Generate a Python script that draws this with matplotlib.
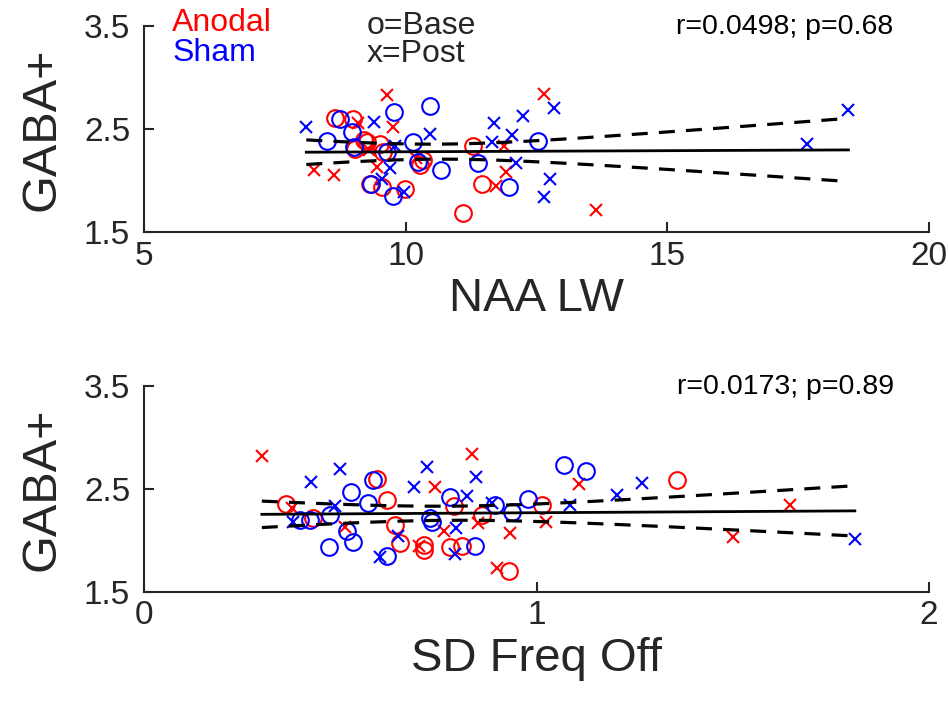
import numpy as np
import matplotlib
matplotlib.use("Agg")
import matplotlib.pyplot as plt

plt.rcParams['font.family'] = ['Liberation Sans', 'DejaVu Sans']

# ---- top panel: NAA linewidth vs GABA+ ----
naa_anodal_base = [8.64, 9.00, 9.03, 9.26, 9.51, 9.57, 9.32, 9.54, 9.99, 10.27, 10.33, 11.29, 11.45, 11.09, 9.20]
gaba_anodal_base = [2.61, 2.60, 2.31, 2.38, 2.36, 2.28, 1.97, 1.94, 1.92, 2.15, 2.20, 2.34, 1.97, 1.69, 2.40]
naa_anodal_post = [9.65, 9.76, 8.24, 8.63, 9.45, 11.73, 9.08, 12.64, 11.87, 11.92, 13.64, 9.30, 10.20]
gaba_anodal_post = [2.83, 2.52, 2.10, 2.06, 2.13, 1.95, 2.56, 2.84, 2.34, 2.08, 1.72, 2.30, 2.22]
naa_sham_base = [8.75, 8.49, 8.97, 9.01, 9.78, 10.47, 10.13, 10.24, 10.67, 9.65, 9.33, 9.76, 11.38, 12.52, 11.98]
gaba_sham_base = [2.60, 2.39, 2.47, 2.33, 2.67, 2.73, 2.38, 2.18, 2.10, 2.28, 1.97, 1.85, 2.17, 2.39, 1.94]
naa_sham_post = [8.10, 9.40, 10.47, 9.80, 9.54, 9.70, 9.96, 11.68, 11.65, 12.83, 12.25, 12.04, 12.11, 12.76, 12.64, 18.46, 17.66]
gaba_sham_post = [2.52, 2.57, 2.45, 2.34, 2.02, 2.12, 1.89, 2.56, 2.38, 2.71, 2.63, 2.44, 2.17, 2.02, 1.84, 2.69, 2.36]

# ---- bottom panel: SD of frequency offset vs GABA+ ----
sd_anodal_base = [0.362, 0.431, 0.593, 0.618, 0.640, 0.652, 0.712, 0.714, 0.790, 0.780, 0.810, 0.860, 0.930, 1.013, 1.359]
gb_anodal_base = [2.35, 2.22, 2.60, 2.39, 2.15, 1.97, 1.96, 1.91, 2.33, 1.94, 1.95, 2.25, 1.70, 2.34, 2.59]
sd_anodal_post = [0.300, 0.376, 0.512, 0.741, 0.700, 0.763, 0.835, 0.932, 1.024, 1.109, 1.500, 0.900, 1.646, 0.852]
gb_anodal_post = [2.82, 2.31, 2.13, 2.52, 1.95, 2.09, 2.84, 2.07, 2.18, 2.55, 2.03, 1.73, 2.34, 2.17]
sd_sham_base = [0.397, 0.423, 0.470, 0.474, 0.518, 0.532, 0.527, 0.584, 0.571, 0.618, 0.729, 0.733, 0.780, 0.844, 0.894, 0.937, 0.979, 1.070, 1.126]
gb_sham_base = [2.20, 2.20, 1.94, 2.25, 2.09, 1.98, 2.47, 2.59, 2.36, 1.85, 2.22, 2.18, 2.42, 1.95, 2.34, 2.28, 2.40, 2.73, 2.67]
sd_sham_post = [0.380, 0.425, 0.500, 0.487, 0.600, 0.648, 0.720, 0.688, 0.795, 0.824, 0.792, 0.846, 0.886, 1.084, 1.204, 1.268, 1.811]
gb_sham_post = [2.18, 2.57, 2.69, 2.33, 1.84, 2.04, 2.71, 2.52, 2.12, 2.43, 1.87, 2.62, 2.36, 2.34, 2.44, 2.56, 2.01]

stats_top = "r=0.0498; p=0.68"
stats_bottom = "r=0.0173; p=0.89"


def fit_band(x, y):
    # least squares line + 95% confidence band of the mean
    x = np.asarray(x); y = np.asarray(y)
    n = len(x)
    b, a = np.polyfit(x, y, 1)
    res = y - (a + b * x)
    s = np.sqrt(np.sum(res ** 2) / (n - 2))
    sxx = np.sum((x - x.mean()) ** 2)
    xx = np.linspace(x.min(), x.max(), 100)
    yy = a + b * xx
    half = 1.998 * s * np.sqrt(1.0 / n + (xx - x.mean()) ** 2 / sxx)
    return xx, yy, yy - half, yy + half


def panel(ax, groups, xlim, xticks, xlabel, stats):
    for x, y, col, mk in groups:
        if mk == 'o':
            ax.plot(x, y, 'o', mfc='none', mec=col, ms=12, mew=1.5, clip_on=False)
        else:
            ax.plot(x, y, 'x', color=col, ms=8, mew=1.5, clip_on=False)
    allx = np.concatenate([g[0] for g in groups])
    ally = np.concatenate([g[1] for g in groups])
    xx, yy, lo, hi = fit_band(allx, ally)
    ax.plot(xx, yy, 'k-', lw=2)
    ax.plot(xx, lo, 'k--', lw=2.3, dashes=(5, 3.5))
    ax.plot(xx, hi, 'k--', lw=2.3, dashes=(5, 3.5))
    ax.set_xlim(xlim)
    ax.set_ylim(1.5, 3.5)
    ax.set_xticks(xticks)
    ax.set_yticks([1.5, 2.5, 3.5])
    ax.set_yticklabels(['1.5', '2.5', '3.5'])
    ax.spines['top'].set_visible(False)
    ax.spines['right'].set_visible(False)
    for s in ['left', 'bottom']:
        ax.spines[s].set_linewidth(1.5)
        ax.spines[s].set_color('#262626')
    ax.tick_params(direction='in', length=7, width=1.5, labelsize=24, colors='#262626')
    ax.tick_params(axis='x', pad=6)
    ax.tick_params(axis='y', pad=10)
    ax.set_xlabel(xlabel, fontsize=34, color='#262626', labelpad=4)
    ax.set_ylabel('GABA+', fontsize=35, color='#262626', labelpad=14)
    ax.text(0.955, 0.995, stats, transform=ax.transAxes, ha='right', va='center', fontsize=20.5)


fig = plt.figure(figsize=(9.48, 7.08), dpi=100)
ax1 = fig.add_axes([0.152, 0.672, 0.828, 0.291])
ax2 = fig.add_axes([0.152, 0.164, 0.828, 0.291])

panel(ax1, [(naa_anodal_base, gaba_anodal_base, 'r', 'o'),
            (naa_anodal_post, gaba_anodal_post, 'r', 'x'),
            (naa_sham_base, gaba_sham_base, 'b', 'o'),
            (naa_sham_post, gaba_sham_post, 'b', 'x')],
      (5, 20), [5, 10, 15, 20], 'NAA LW', stats_top)
panel(ax2, [(sd_anodal_base, gb_anodal_base, 'r', 'o'),
            (sd_anodal_post, gb_anodal_post, 'r', 'x'),
            (sd_sham_base, gb_sham_base, 'b', 'o'),
            (sd_sham_post, gb_sham_post, 'b', 'x')],
      (0, 2), [0, 1, 2], 'SD Freq Off', stats_bottom)

# legend-like labels in the top panel
ax1.text(0.036, 1.015, 'Anodal', transform=ax1.transAxes, color='r', fontsize=23, va='center')
ax1.text(0.036, 0.869, 'Sham', transform=ax1.transAxes, color='b', fontsize=23, va='center')
ax1.text(0.283, 1.0, 'o=Base', transform=ax1.transAxes, color='#262626', fontsize=23, va='center')
ax1.text(0.283, 0.864, 'x=Post', transform=ax1.transAxes, color='#262626', fontsize=23, va='center')

fig.savefig('out.png', dpi=100)
